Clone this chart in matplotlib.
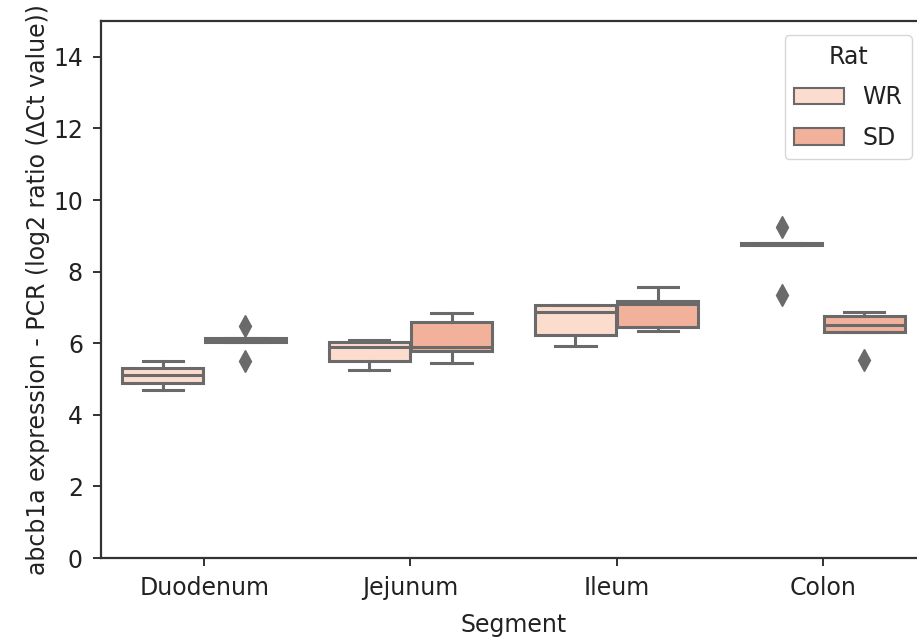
import matplotlib
matplotlib.use('Agg')
import matplotlib.pyplot as plt
from matplotlib.patches import Patch

segments = ['Duodenum', 'Jejunum', 'Ileum', 'Colon']
rats = ['WR', 'SD']

# box summaries (whisker low, q1, median, q3, whisker high)
wr_whislo = [4.70, 5.26, 5.93, 8.73]
wr_q1 = [4.90, 5.51, 6.24, 8.73]
wr_med = [5.10, 5.90, 6.86, 8.76]
wr_q3 = [5.32, 6.02, 7.08, 8.79]
wr_whishi = [5.49, 6.08, 7.08, 8.79]
wr_fliers = [[], [], [], [9.24, 7.36]]

sd_whislo = [6.03, 5.46, 6.33, 6.30]
sd_q1 = [6.03, 5.77, 6.44, 6.30]
sd_med = [6.10, 5.88, 7.10, 6.50]
sd_q3 = [6.15, 6.58, 7.19, 6.75]
sd_whishi = [6.15, 6.85, 7.56, 6.86]
sd_fliers = [[6.47, 5.49], [], [], [5.54]]

colors = ['#fbdccd', '#f1b19b']
gray = '#6a6a6a'
fs = 17


def make_stats(lo, q1, med, q3, hi, fl):
    return [dict(whislo=lo[i], q1=q1[i], med=med[i], q3=q3[i], whishi=hi[i],
                 fliers=fl[i]) for i in range(len(lo))]


fig = plt.figure(figsize=(9.17, 6.42), dpi=100)
ax = fig.add_axes([101 / 917, 84 / 642, 825 / 917, 537 / 642])

groups = [make_stats(wr_whislo, wr_q1, wr_med, wr_q3, wr_whishi, wr_fliers),
          make_stats(sd_whislo, sd_q1, sd_med, sd_q3, sd_whishi, sd_fliers)]
offsets = [-0.2, 0.2]

for g, stats in enumerate(groups):
    pos = [i + offsets[g] for i in range(len(segments))]
    ax.bxp(stats, positions=pos, widths=0.392, patch_artist=True,
           boxprops=dict(facecolor=colors[g], edgecolor=gray, linewidth=2.2),
           whiskerprops=dict(color=gray, linewidth=2.2),
           capprops=dict(color=gray, linewidth=2.2),
           medianprops=dict(color=gray, linewidth=2.2),
           flierprops=dict(marker='d', markerfacecolor=gray, markeredgecolor=gray,
                           markersize=11),
           manage_ticks=False)

ax.set_xlim(-0.5, 3.5)
ax.set_ylim(0, 15)
ax.set_xticks(range(len(segments)))
ax.set_xticklabels(segments)
ax.set_yticks(range(0, 15, 2))
ax.tick_params(labelsize=fs, length=6, width=1.3, pad=7, colors='#222222')
for s in ax.spines.values():
    s.set_linewidth(1.6)
    s.set_color('#333333')
ax.set_xlabel('Segment', fontsize=fs, labelpad=9, color='#222222')
ax.set_ylabel('abcb1a expression - PCR (log2 ratio (\u0394Ct value))', fontsize=fs,
              labelpad=2, color='#222222')

handles = [Patch(facecolor=colors[i], edgecolor=gray, linewidth=1.5, label=rats[i])
           for i in range(2)]
leg = ax.legend(handles=handles, title='Rat', loc='upper right', fontsize=fs,
                title_fontsize=fs, labelspacing=0.7, handlelength=2.1,
                borderaxespad=0.6)
for t in leg.get_texts():
    t.set_color('#222222')
leg.get_title().set_color('#222222')

fig.savefig('out.png', dpi=100)
